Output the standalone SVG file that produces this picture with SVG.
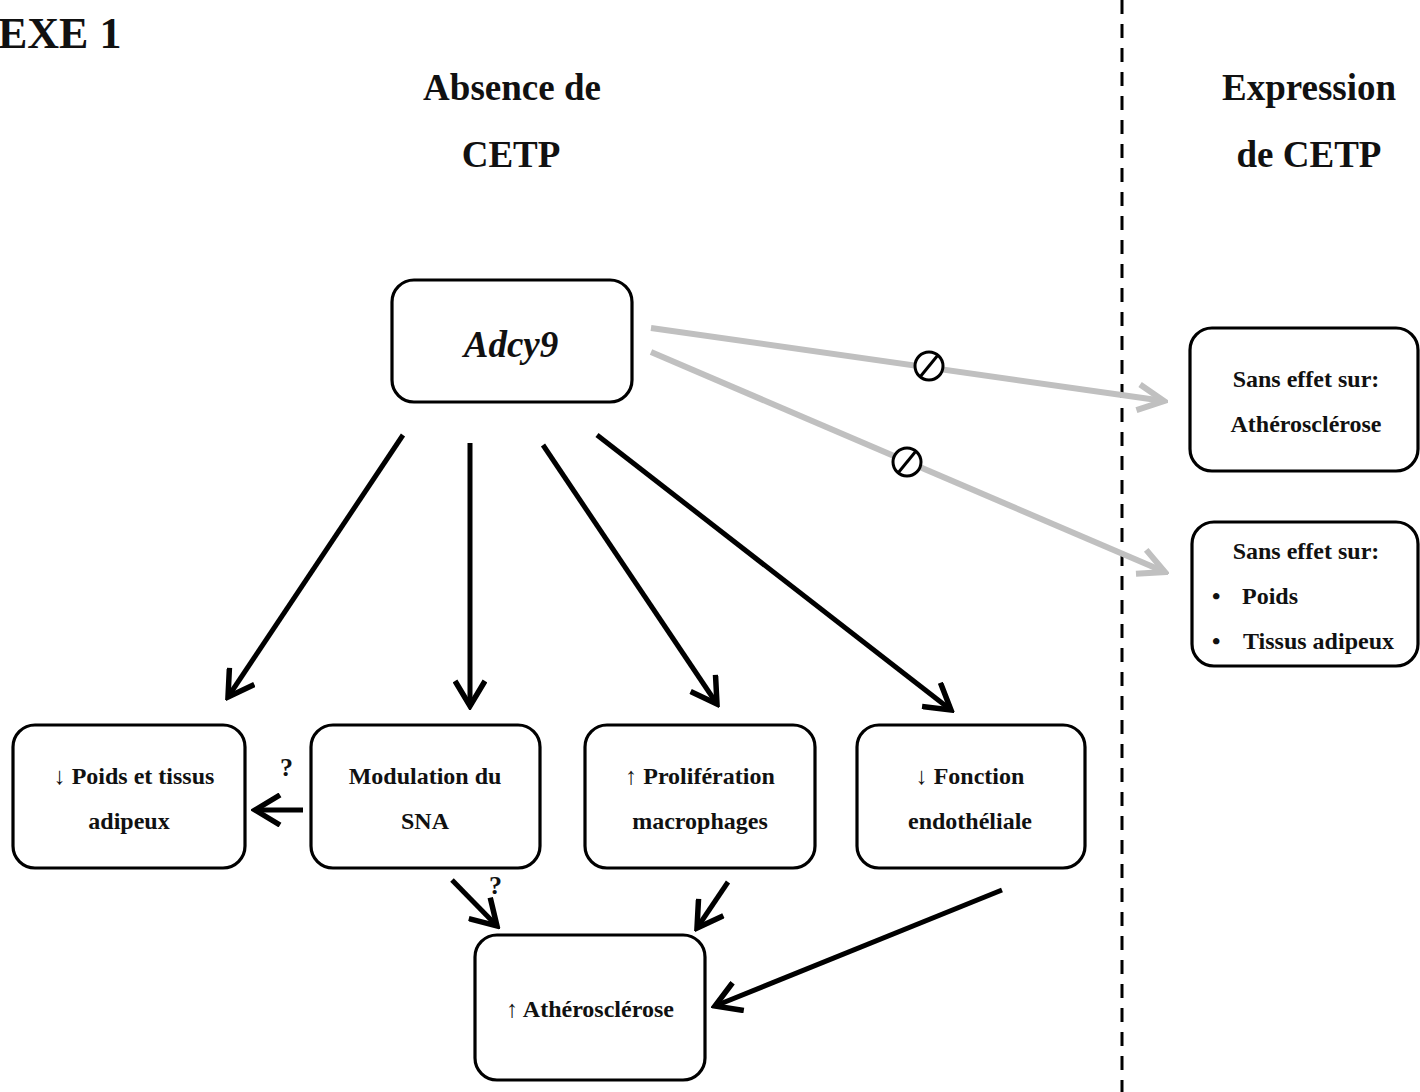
<svg xmlns="http://www.w3.org/2000/svg" width="1420" height="1092" viewBox="0 0 1420 1092">
<style>
.box{fill:#fff;stroke:#000;stroke-width:3.2}
.t{font-family:"Liberation Serif","Times New Roman",serif;font-weight:bold;font-size:24px;fill:#111}
.big{font-size:37px;font-style:italic}
.q{font-size:26px}
.h{font-family:"Liberation Serif","Times New Roman",serif;font-weight:bold;font-size:37px;fill:#111;text-anchor:middle}
.m{text-anchor:middle}
.ar{font-weight:normal}
.blk{stroke:#000;stroke-width:5;fill:none}
.gry{stroke:#c0c0c0;stroke-width:6;fill:none}
.nul{fill:#fff;stroke:#000;stroke-width:3}
</style>
<defs>
<marker id="ab" viewBox="0 0 34 34" refX="30" refY="17" markerWidth="34" markerHeight="34" markerUnits="userSpaceOnUse" orient="auto">
<path d="M5,2 L30,17 L5,32" fill="none" stroke="#000" stroke-width="5.5"/>
</marker>
<marker id="ag" viewBox="0 0 36 36" refX="32" refY="18" markerWidth="36" markerHeight="36" markerUnits="userSpaceOnUse" orient="auto">
<path d="M6,5 L32,18 L6,31" fill="none" stroke="#c0c0c0" stroke-width="6"/>
</marker>
</defs>
<rect width="1420" height="1092" fill="#fff"/>
<text x="-2" y="48" font-family="'Liberation Serif','Times New Roman',serif" font-weight="bold" font-size="44" fill="#111">EXE 1</text>
<text class="h" x="512" y="100">Absence de</text>
<text class="h" x="511" y="167">CETP</text>
<text class="h" x="1309" y="100">Expression</text>
<text class="h" x="1309" y="167">de CETP</text>
<line x1="1122" y1="0" x2="1122" y2="1092" stroke="#000" stroke-width="3" stroke-dasharray="14 10"/>
<g id="connectors">
<line class="blk" x1="403" y1="435" x2="228" y2="697" marker-end="url(#ab)"/>
<line class="blk" x1="470" y1="443" x2="470" y2="706" marker-end="url(#ab)"/>
<line class="blk" x1="543" y1="445" x2="717" y2="704" marker-end="url(#ab)"/>
<line class="blk" x1="597" y1="435" x2="951" y2="710" marker-end="url(#ab)"/>
<line class="blk" x1="303" y1="810" x2="255" y2="810" marker-end="url(#ab)"/>
<line class="blk" x1="452" y1="880" x2="497" y2="926" marker-end="url(#ab)"/>
<line class="blk" x1="728" y1="882" x2="697" y2="928" marker-end="url(#ab)"/>
<line class="blk" x1="1002" y1="890" x2="715" y2="1006" marker-end="url(#ab)"/>
<line class="gry" x1="651" y1="328" x2="1164" y2="401" marker-end="url(#ag)"/>
<line class="gry" x1="651" y1="352" x2="1165" y2="572" marker-end="url(#ag)"/>
<g id="null1"><circle class="nul" cx="929" cy="366" r="14"/><line x1="920" y1="377" x2="938" y2="355" stroke="#000" stroke-width="3"/></g>
<g id="null2"><circle class="nul" cx="907" cy="462" r="14"/><line x1="898" y1="473" x2="916" y2="451" stroke="#000" stroke-width="3"/></g>
<text class="t q" x="280" y="776">?</text>
<text class="t q" x="489" y="894">?</text>
</g>
<g id="adcy9">
<rect class="box" x="392" y="280" width="240" height="122" rx="22"/>
<text class="t m big" x="511" y="357">Adcy9</text>
</g>
<g id="sans-effet-athero">
<rect class="box" x="1190" y="328" width="228" height="143" rx="22"/>
<text class="t m" x="1306" y="387">Sans effet sur:</text>
<text class="t m" x="1306" y="432">Athérosclérose</text>
</g>
<g id="sans-effet-poids">
<rect class="box" x="1192" y="522" width="226" height="144" rx="22"/>
<text class="t m" x="1306" y="559">Sans effet sur:</text>
<text class="t" x="1212" y="604">•</text>
<text class="t" x="1242" y="604">Poids</text>
<text class="t" x="1212" y="649">•</text>
<text class="t" x="1243" y="649">Tissus adipeux</text>
</g>
<g id="poids">
<rect class="box" x="13" y="725" width="232" height="143" rx="22"/>
<text class="t m" x="134" y="784"><tspan class="ar">↓</tspan> Poids et tissus</text>
<text class="t m" x="129" y="829">adipeux</text>
</g>
<g id="sna">
<rect class="box" x="311" y="725" width="229" height="143" rx="22"/>
<text class="t m" x="425" y="784">Modulation du</text>
<text class="t m" x="425" y="829">SNA</text>
</g>
<g id="proliferation">
<rect class="box" x="585" y="725" width="230" height="143" rx="22"/>
<text class="t m" x="700" y="784"><tspan class="ar">↑</tspan> Prolifération</text>
<text class="t m" x="700" y="829">macrophages</text>
</g>
<g id="endothelial">
<rect class="box" x="857" y="725" width="228" height="143" rx="22"/>
<text class="t m" x="970" y="784"><tspan class="ar">↓</tspan> Fonction</text>
<text class="t m" x="970" y="829">endothéliale</text>
</g>
<g id="atherosclerose">
<rect class="box" x="475" y="935" width="230" height="145" rx="22"/>
<text class="t m" x="590" y="1017"><tspan class="ar">↑</tspan> Athérosclérose</text>
</g>
</svg>
